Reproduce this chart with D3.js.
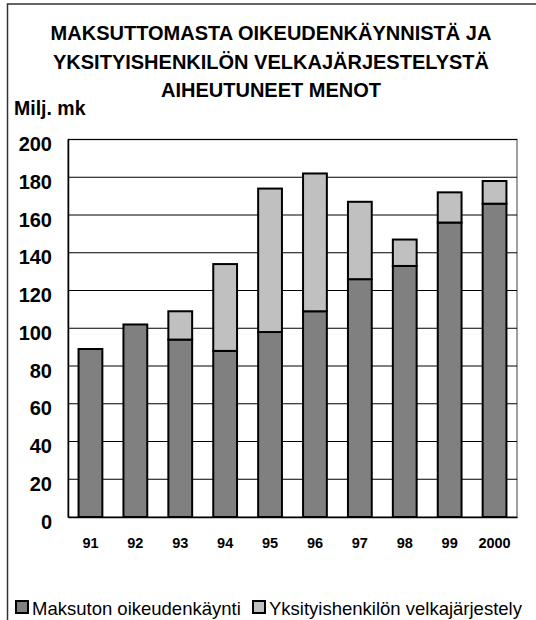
<!DOCTYPE html>
<html>
<head>
<meta charset="utf-8">
<script src="https://cdn.jsdelivr.net/npm/d3@7"></script>
<style>
    body { margin: 0; background: #fff; }
    svg text { font-family: Arial, "Liberation Sans", sans-serif; fill: #000; }
</style>
</head>
<body>
<div id="chart"></div>
<script>

// Data
let years = ["91", "92", "93", "94", "95", "96", "97", "98", "99", "2000"];
let maksuton = [89, 102, 94, 88, 98, 109, 126, 133, 156, 166];
let velka = [0, 0, 15, 46, 76, 73, 41, 14, 16, 12];
let seriesNames = ["Maksuton oikeudenkäynti", "Yksityishenkilön velkajärjestely"];
let seriesColors = ["#808080", "#c0c0c0"];
let yTicks = [0, 20, 40, 60, 80, 100, 120, 140, 160, 180, 200];
let titleLines = ["MAKSUTTOMASTA OIKEUDENKÄYNNISTÄ JA", "YKSITYISHENKILÖN VELKAJÄRJESTELYSTÄ", "AIHEUTUNEET MENOT"];

let width = 536, height = 620;
let margin = {top: 139.5, right: 19, bottom: 103, left: 68},
    plotWidth = width - margin.left - margin.right,
    plotHeight = height - margin.top - margin.bottom;

let svg = d3.select("#chart").append("svg")
    .attr("width", width)
    .attr("height", height);

// outer frame of the chart
svg.append("rect")
    .attr("x", 7.5)
    .attr("y", 4)
    .attr("width", 540)
    .attr("height", 640)
    .attr("fill", "none")
    .attr("stroke", "#333")
    .attr("stroke-width", 1.5);

// title
svg.append("g").selectAll("text")
    .data(titleLines)
    .enter()
    .append("text")
    .attr("x", 271)
    .attr("y", (d, i) => 40 + i * 28.5)
    .attr("text-anchor", "middle")
    .attr("font-size", 20)
    .attr("font-weight", "bold")
    .text(d => d);

svg.append("text")
    .attr("x", 14)
    .attr("y", 115)
    .attr("font-size", 19.5)
    .attr("font-weight", "bold")
    .text("Milj. mk");

let g = svg.append("g")
    .attr("transform", "translate(" + margin.left + "," + margin.top + ")");

let x = d3.scaleBand()
    .domain(years)
    .range([0, plotWidth])
    .paddingInner(0.47)
    .paddingOuter(0.235);

let y = d3.scaleLinear()
    .domain([0, 200])
    .range([plotHeight, 0]);

// plot area border
g.append("rect")
    .attr("width", plotWidth)
    .attr("height", plotHeight)
    .attr("fill", "none")
    .attr("stroke", "#808080")
    .attr("stroke-width", 1.5);

// gridlines
g.append("g")
    .selectAll("line")
    .data(yTicks.filter(d => d > 0))
    .enter()
    .append("line")
    .attr("x1", 0)
    .attr("x2", plotWidth)
    .attr("y1", d => y(d))
    .attr("y2", d => y(d))
    .attr("stroke", "#000")
    .attr("stroke-width", 1);

// stacked bars
let stackData = years.map((yr, i) => ({year: yr, a: maksuton[i], b: velka[i]}));
let stack = d3.stack().keys(["a", "b"])(stackData);

g.append("g")
    .selectAll("g")
    .data(stack)
    .enter()
    .append("g")
    .attr("fill", (d, i) => seriesColors[i])
    .selectAll("rect")
    .data(d => d.filter(p => p[1] - p[0] > 0))
    .enter()
    .append("rect")
    .attr("x", d => x(d.data.year))
    .attr("y", d => y(d[1]))
    .attr("width", x.bandwidth())
    .attr("height", d => y(d[0]) - y(d[1]))
    .attr("stroke", "#000")
    .attr("stroke-width", 2);

// axes
let yAxis = d3.axisLeft(y).tickValues(yTicks).tickSize(0).tickPadding(16);
let yAxisGroup = g.append("g")
    .attr("class", "y-axis axis")
    .call(yAxis);
yAxisGroup.select(".domain").attr("stroke", "#000").attr("stroke-width", 1.5);
yAxisGroup.selectAll("text")
    .attr("font-size", 20)
    .attr("font-weight", "bold")
    .attr("dy", "0.9em")
    .attr("y", -7);

let xAxis = d3.axisBottom(x).tickSize(0).tickPadding(21);
let xAxisGroup = g.append("g")
    .attr("class", "x-axis axis")
    .attr("transform", "translate(0," + plotHeight + ")")
    .call(xAxis);
xAxisGroup.select(".domain").attr("stroke", "#000").attr("stroke-width", 1.5);
xAxisGroup.selectAll("text")
    .attr("font-size", 14.5)
    .attr("font-weight", "bold");

// legend
let legendX = [16, 253];
let legend = svg.append("g")
    .selectAll("g")
    .data(seriesNames)
    .enter()
    .append("g")
    .attr("transform", (d, i) => "translate(" + legendX[i] + ",601)");

legend.append("rect")
    .attr("width", 12)
    .attr("height", 12)
    .attr("fill", (d, i) => seriesColors[i])
    .attr("stroke", "#000")
    .attr("stroke-width", 2);

legend.append("text")
    .attr("x", 16)
    .attr("y", 14)
    .attr("font-size", 18.5)
    .text(d => d);

</script>
</body>
</html>
